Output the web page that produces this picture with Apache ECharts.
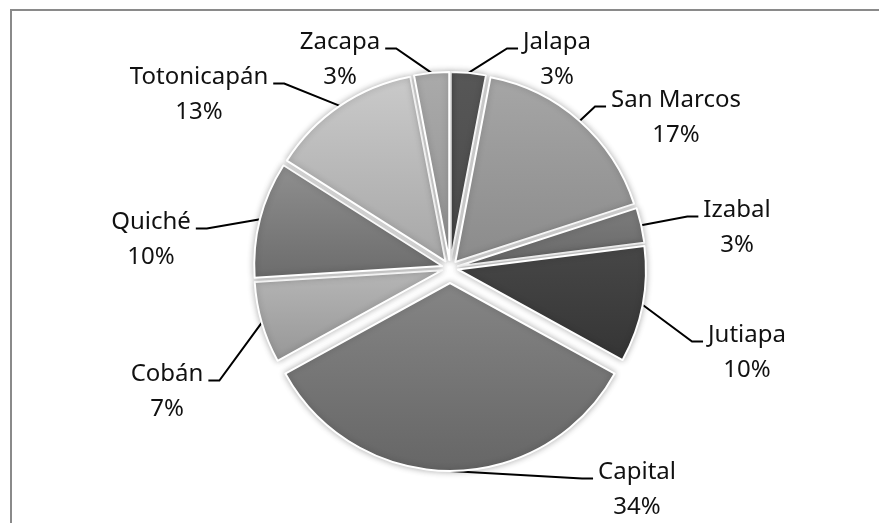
<!DOCTYPE html>
<html><head><meta charset="utf-8">
<script src="https://cdn.jsdelivr.net/npm/echarts@6/dist/echarts.min.js"></script>
<style>html,body{margin:0;padding:0;background:#fff}#c{width:879px;height:523px}</style>
</head><body><div id="c"></div>
<script>
// ---- data ----
const categories = ['Jalapa','San Marcos','Izabal','Jutiapa','Capital','Cobán','Quiché','Totonicapán','Zacapa'];
const values = [3, 17, 3, 10, 34, 7, 10, 13, 3];

// ---- styles / layout ----
const shadesTop    = ['#575757','#a6a6a6','#7c7c7c','#474747','#858585','#b6b6b6','#8f8f8f','#cacaca','#aaaaaa'];
const shadesBottom = ['#4a4a4a','#8b8b8b','#686868','#353535','#666666','#979797','#6c6c6c','#a7a7a7','#939393'];
const labelCenters = {
  'Jalapa':[557,60], 'San Marcos':[676,118], 'Izabal':[737,228], 'Jutiapa':[747,353],
  'Capital':[637,490], 'Cobán':[167,392], 'Quiché':[151,240], 'Totonicapán':[199,95], 'Zacapa':[340,60]
};
const CX = 450, CY = 268, R = 188;
const OFFSET_MAIN = 8, OFFSET_BIG = 15;
const BIG = 'Capital';
const LH = 35;

const chart = echarts.init(document.getElementById('c'), null, {renderer:'canvas'});

function grad(i){
  return new echarts.graphic.LinearGradient(0,0,0,1,[
    {offset:0,color:shadesTop[i]},{offset:1,color:shadesBottom[i]}]);
}
const clear = {color:'rgba(0,0,0,0)', borderWidth:0, shadowBlur:0, shadowColor:'rgba(0,0,0,0)'};
function sliceData(showBig){
  return categories.map((n,i)=>{
    const visible = (n===BIG) === showBig;
    return {name:n, value:values[i], selected:true, itemStyle: visible ? {color:grad(i)} : clear};
  });
}
const base = {
  type:'pie', center:[CX,CY], radius:R, startAngle:90, clockwise:true,
  selectedMode:'multiple', silent:true, animation:false,
  label:{show:false}, labelLine:{show:false},
  itemStyle:{borderColor:'#ffffff', borderWidth:2, shadowBlur:6, shadowColor:'rgba(0,0,0,0.28)'},
  emphasis:{disabled:true}
};

const option = {
  animation:false,
  backgroundColor:'#ffffff',
  graphic:[{type:'rect', silent:true, z:-10,
    shape:{x:11,y:10,width:900,height:600},
    style:{fill:'none', stroke:'#8a8a8a', lineWidth:2}}],
  series:[
    Object.assign({}, base, {selectedOffset:OFFSET_MAIN, data:sliceData(false)}),
    Object.assign({}, base, {selectedOffset:OFFSET_BIG, data:sliceData(true)}),
    {
      type:'pie', center:[CX,CY], radius:R, startAngle:90, clockwise:true,
      silent:true, animation:false, avoidLabelOverlap:false, percentPrecision:0,
      itemStyle:{color:'rgba(0,0,0,0)'},
      emphasis:{disabled:true},
      data: categories.map((n,i)=>({name:n, value:values[i]})),
      label:{show:true, position:'outside', formatter:'{b}\n{d}%',
        fontFamily:'Noto Sans', fontSize:24, lineHeight:LH, color:'#111'},
      labelLine:{show:true, lineStyle:{color:'#000', width:2}},
      labelLayout:function(p){
        const name = categories[p.dataIndex];
        const c = labelCenters[name];
        const w = p.labelRect.width;
        const p0 = p.labelLinePoints[0];
        const dx = p0[0]-CX, dy = p0[1]-CY;
        const len = Math.sqrt(dx*dx+dy*dy) || 1;
        const off = name===BIG ? OFFSET_BIG : OFFSET_MAIN;
        const start = [CX + dx/len*(R+off), CY + dy/len*(R+off)];
        const leftSide = c[0] < CX;
        const ax = leftSide ? c[0] + w/2 + 5 : c[0] - w/2 - 5;
        const ay = c[1] - LH/2 + 6;
        const ex = leftSide ? ax + 11 : ax - 11;
        return {x:c[0], y:c[1], align:'center', verticalAlign:'middle',
          labelLinePoints:[start,[ex,ay],[ax,ay]]};
      }
    }
  ]
};
chart.setOption(option);
</script>
</body></html>
